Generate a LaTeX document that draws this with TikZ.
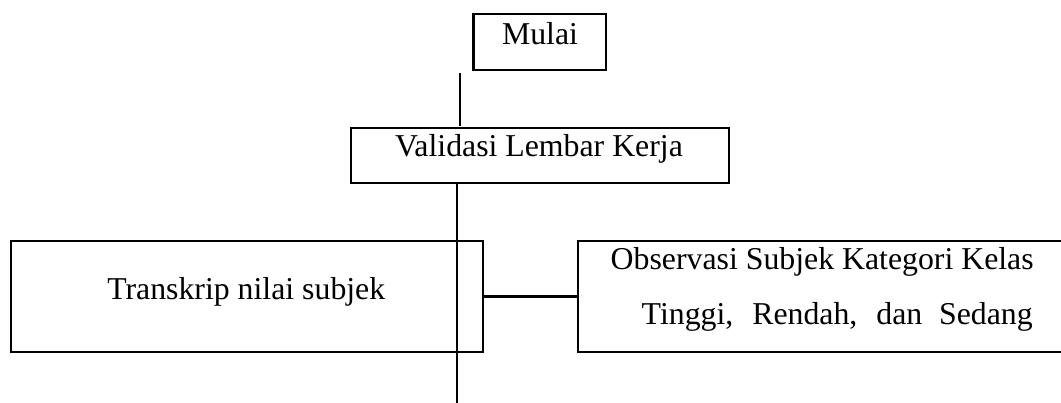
\documentclass[tikz,border=0pt]{standalone}
\usepackage{fontspec}
\setmainfont{Liberation Serif}
\begin{document}
\begin{tikzpicture}[x=1pt,y=-1pt,
  box/.style={draw=black,line width=2.3pt,rectangle,inner sep=0pt,outer sep=0pt},
  lbl/.style={inner sep=0pt,outer sep=0pt,anchor=base west,font=\fontsize{31.8}{38}\selectfont},
  conn/.style={draw=black,line width=2.2pt}]
\useasboundingbox (0,0) rectangle (1061,403);
% boxes
\node[box,minimum width=132.7pt,minimum height=56pt] (mulai) at (539.7,42) {};
\node[box,minimum width=377.7pt,minimum height=54.4pt] (valid) at (539.85,155.5) {};
\node[box,minimum width=472pt,minimum height=111.6pt] (trans) at (246.7,296.5) {};
\node[box,minimum width=485.3pt,minimum height=111pt] (obs) at (820.35,296.5) {};
% texts
\node[lbl] (tmulai) at (502,45) {Mulai};
\node[lbl] (tvalid) at (395,156.7) {Validasi Lembar Kerja};
\node[lbl] (ttrans) at (107.3,299.3) {Transkrip nilai subjek};
\node[lbl] (tobs1) at (610.7,270) {Observasi Subjek Kategori Kelas};
\node[lbl] (tobs2) at (641.7,325) {\makebox[391pt][s]{Tinggi, Rendah, dan Sedang}};
% connectors
\coordinate (a1) at (460,73);
\coordinate (a2) at (460,126);
\coordinate (b2) at (457.3,403);
\draw[conn] (a1) -- (a2);
\draw[conn,line width=1.8pt] (valid.south -| b2) -- (b2);
\draw[conn] (trans.east) -- (obs.west);
\end{tikzpicture}
\end{document}
